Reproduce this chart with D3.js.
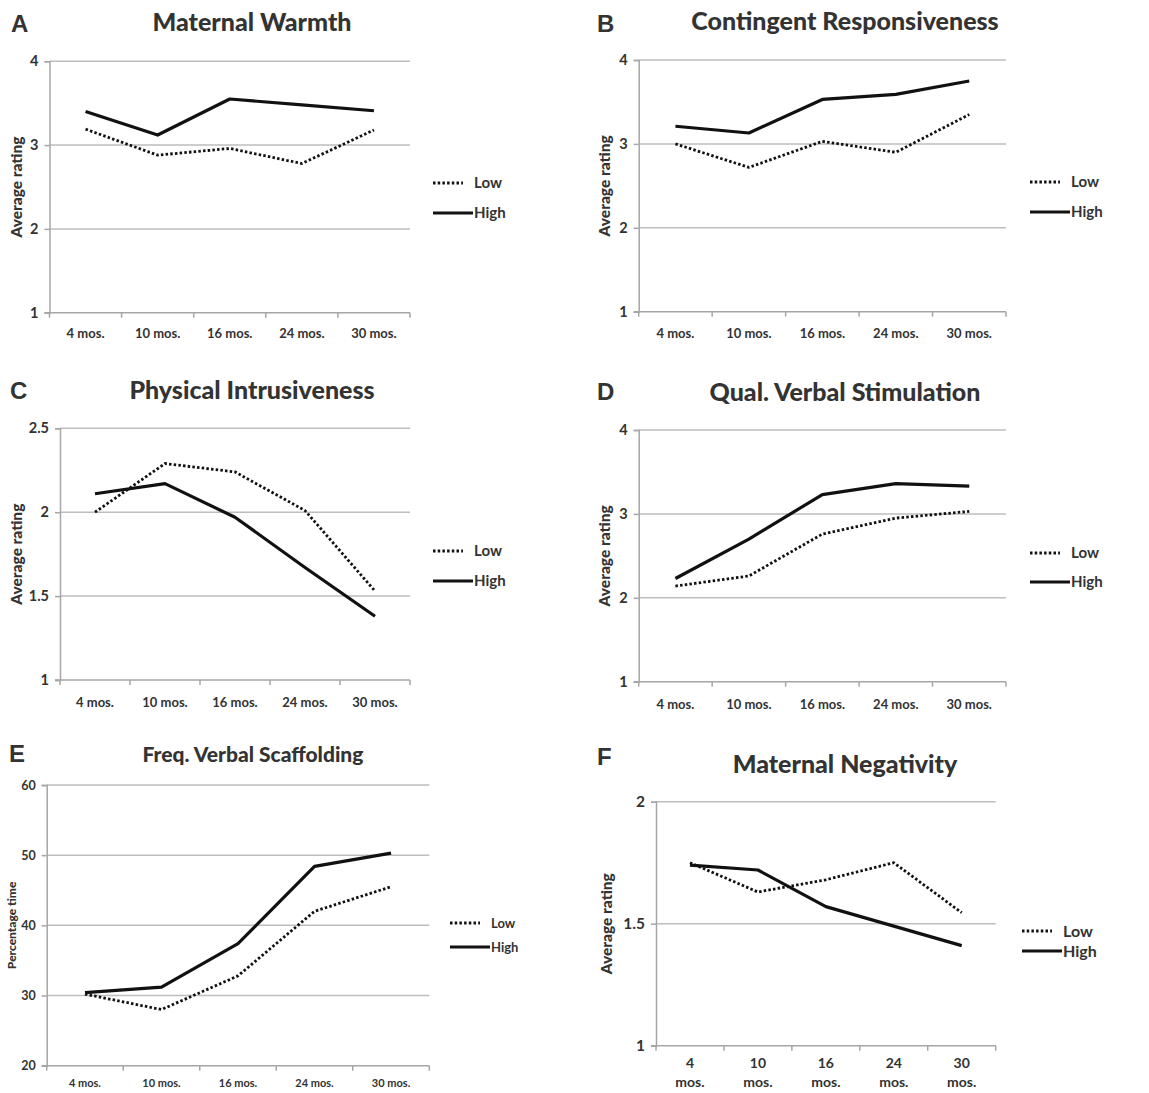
<!DOCTYPE html>
<html>
<head>
<meta charset="utf-8">
<script src="https://cdn.jsdelivr.net/npm/d3@7"></script>
<style>
  body { margin: 0; background: #fff; }
  text { font-family: Lato, "Open Sans", sans-serif; fill: #333; }
</style>
</head>
<body>
<script>
// data
const months = ["4 mos.", "10 mos.", "16 mos.", "24 mos.", "30 mos."];
const seriesNames = ["Low", "High"];

const warmthLow  = [3.19, 2.88, 2.96, 2.78, 3.18];
const warmthHigh = [3.40, 3.12, 3.55, 3.48, 3.41];

const responsivLow  = [3.00, 2.72, 3.03, 2.90, 3.35];
const responsivHigh = [3.21, 3.13, 3.53, 3.59, 3.75];

const intrusiveLow  = [2.00, 2.29, 2.24, 2.01, 1.53];
const intrusiveHigh = [2.11, 2.17, 1.97, 1.67, 1.38];

const stimulationLow  = [2.14, 2.26, 2.76, 2.95, 3.03];
const stimulationHigh = [2.23, 2.70, 3.23, 3.36, 3.33];

const scaffoldLow  = [30.2, 28.0, 32.8, 42.0, 45.5];
const scaffoldHigh = [30.4, 31.2, 37.4, 48.4, 50.3];

const negativityLow  = [1.75, 1.63, 1.68, 1.75, 1.545];
const negativityHigh = [1.74, 1.72, 1.57, 1.49, 1.41];

const ratingTicks = [1, 2, 3, 4];
const intrusiveTicks = [1, 1.5, 2, 2.5];
const scaffoldTicks = [20, 30, 40, 50, 60];
const negativityTicks = [1, 1.5, 2];

const panels = [
  {letter: "A", title: "Maternal Warmth", ylabel: "Average rating", low: warmthLow, high: warmthHigh, ticks: ratingTicks,
   box: {l: 49.5, r: 410, t: 61.3, b: 312.7}, titleX: 252, titleY: 31, letterX: 11, letterY: 32, ylabX: 17,
   legX: 433, legY: [183, 213], xlabY: 338, fs: 13, titleFs: 25},
  {letter: "B", title: "Contingent Responsiveness", ylabel: "Average rating", low: responsivLow, high: responsivHigh, ticks: ratingTicks,
   box: {l: 638.7, r: 1006, t: 60, b: 311.7}, titleX: 845, titleY: 30, letterX: 597, letterY: 32, ylabX: 605,
   legX: 1030, legY: [182, 212], xlabY: 338, fs: 13, titleFs: 25},
  {letter: "C", title: "Physical Intrusiveness", ylabel: "Average rating", low: intrusiveLow, high: intrusiveHigh, ticks: intrusiveTicks,
   box: {l: 60, r: 410, t: 428.3, b: 680}, titleX: 252, titleY: 399, letterX: 10, letterY: 399, ylabX: 17,
   legX: 433, legY: [551, 581], xlabY: 707, fs: 13, titleFs: 25},
  {letter: "D", title: "Qual. Verbal Stimulation", ylabel: "Average rating", low: stimulationLow, high: stimulationHigh, ticks: ratingTicks,
   box: {l: 638.7, r: 1006, t: 430, b: 681.7}, titleX: 845, titleY: 400.5, letterX: 597, letterY: 400, ylabX: 605,
   legX: 1030, legY: [553, 582], xlabY: 709, fs: 13, titleFs: 25},
  {letter: "E", title: "Freq. Verbal Scaffolding", ylabel: "Percentage time", low: scaffoldLow, high: scaffoldHigh, ticks: scaffoldTicks,
   box: {l: 46.7, r: 429.3, t: 785, b: 1065.7}, titleX: 253, titleY: 762, letterX: 9, letterY: 762, ylabX: 12,
   legX: 450, legY: [923, 947], xlabY: 1087, fs: 11, titleFs: 21, ylabFs: 12},
  {letter: "F", title: "Maternal Negativity", ylabel: "Average rating", low: negativityLow, high: negativityHigh, ticks: negativityTicks,
   box: {l: 656, r: 995.7, t: 801.7, b: 1045.7}, titleX: 845, titleY: 773, letterX: 597, letterY: 765, ylabX: 607,
   legX: 1022, legY: [931, 951], xlabY: 1068, fs: 14, titleFs: 25, twoLine: true}
];

const svg = d3.select("body").append("svg")
  .attr("width", 1149)
  .attr("height", 1093);

panels.forEach(drawPanel);

function drawPanel(p) {
  const g = svg.append("g");
  const bx = p.box;

  const x = d3.scaleBand().domain(months).range([bx.l, bx.r]).padding(0);
  const y = d3.scaleLinear().domain([p.ticks[0], p.ticks[p.ticks.length - 1]]).range([bx.b, bx.t]);

  // gridlines
  g.append("g").selectAll("line")
    .data(p.ticks.slice(1))
    .enter().append("line")
      .attr("x1", bx.l).attr("x2", bx.r)
      .attr("y1", d => y(d)).attr("y2", d => y(d))
      .attr("stroke", "#bdbdbd").attr("stroke-width", 1.5);

  // y axis
  const yAxis = g.append("g")
    .attr("transform", "translate(" + bx.l + ",0)")
    .call(d3.axisLeft(y).tickValues(p.ticks).tickSize(5).tickPadding(6).tickFormat(d3.format("")));
  yAxis.select(".domain").attr("stroke", "#a6a6a6").attr("stroke-width", 1.5);
  yAxis.selectAll(".tick line").attr("stroke", "#a6a6a6").attr("stroke-width", 1.5);
  yAxis.selectAll(".tick text")
    .style("font-family", "Lato, sans-serif").style("font-size", (p.fs + 1.5) + "px")
    .style("font-weight", "bold").attr("fill", "#333");

  // x axis line + tick marks at band edges
  const edges = months.map(m => x(m)).concat([x.range()[1]]);
  g.append("line")
    .attr("x1", bx.l - 5).attr("x2", bx.r)
    .attr("y1", bx.b).attr("y2", bx.b)
    .attr("stroke", "#a6a6a6").attr("stroke-width", 1.5);
  g.append("g").selectAll("line")
    .data(edges)
    .enter().append("line")
      .attr("x1", d => d).attr("x2", d => d)
      .attr("y1", bx.b).attr("y2", bx.b + 5)
      .attr("stroke", "#a6a6a6").attr("stroke-width", 1.5);

  // x labels
  const xl = g.append("g").selectAll("text")
    .data(months)
    .enter().append("text")
      .attr("x", d => x(d) + x.bandwidth() / 2)
      .attr("y", p.xlabY)
      .attr("text-anchor", "middle")
      .style("font-size", p.fs + "px")
      .style("font-weight", "bold");
  if (p.twoLine) {
    xl.each(function(d) {
      const parts = d.split(" ");
      const t = d3.select(this);
      t.append("tspan").attr("x", x(d) + x.bandwidth() / 2).text(parts[0]);
      t.append("tspan").attr("x", x(d) + x.bandwidth() / 2).attr("dy", 19).text(parts[1]);
    });
  } else {
    xl.text(d => d);
  }

  // lines
  const line = d3.line()
    .x((d, i) => x(months[i]) + x.bandwidth() / 2)
    .y(d => y(d));

  g.append("path")
    .datum(p.low)
    .attr("d", line)
    .attr("fill", "none")
    .attr("stroke", "#111")
    .attr("stroke-width", 2.8)
    .attr("stroke-dasharray", "2.5,2.2");

  g.append("path")
    .datum(p.high)
    .attr("d", line)
    .attr("fill", "none")
    .attr("stroke", "#111")
    .attr("stroke-width", 3.2)
    .attr("stroke-linejoin", "round");

  // legend
  const leg = g.append("g");
  leg.append("line")
    .attr("x1", p.legX).attr("x2", p.legX + 30)
    .attr("y1", p.legY[0]).attr("y2", p.legY[0])
    .attr("stroke", "#111").attr("stroke-width", 2.8).attr("stroke-dasharray", "2.5,2.2");
  leg.append("line")
    .attr("x1", p.legX).attr("x2", p.legX + 40)
    .attr("y1", p.legY[1]).attr("y2", p.legY[1])
    .attr("stroke", "#111").attr("stroke-width", 3.2);
  leg.selectAll("text")
    .data(seriesNames)
    .enter().append("text")
      .attr("x", p.legX + 41)
      .attr("y", (d, i) => p.legY[i])
      .attr("dy", "0.35em")
      .style("font-size", (p.fs + 2) + "px")
      .style("font-weight", "bold")
      .text(d => d);

  // y label
  g.append("text")
    .attr("transform", "translate(" + p.ylabX + "," + ((bx.t + bx.b) / 2) + ") rotate(-90)")
    .attr("text-anchor", "middle")
    .attr("dy", "0.35em")
    .style("font-size", (p.ylabFs || 15.5) + "px")
    .style("font-weight", "900")
    .attr("fill", "#111")
    .text(p.ylabel);

  // title + panel letter
  g.append("text")
    .attr("x", p.titleX).attr("y", p.titleY)
    .attr("text-anchor", "middle")
    .style("font-size", p.titleFs + "px")
    .style("font-weight", "900")
    .attr("fill", "#111")
    .text(p.title);

  g.append("text")
    .attr("x", p.letterX).attr("y", p.letterY)
    .style("font-family", "'Liberation Sans', Arial, sans-serif")
    .style("font-size", "24px")
    .style("font-weight", "bold")
    .attr("fill", "#000")
    .text(p.letter);
}
</script>
</body>
</html>
